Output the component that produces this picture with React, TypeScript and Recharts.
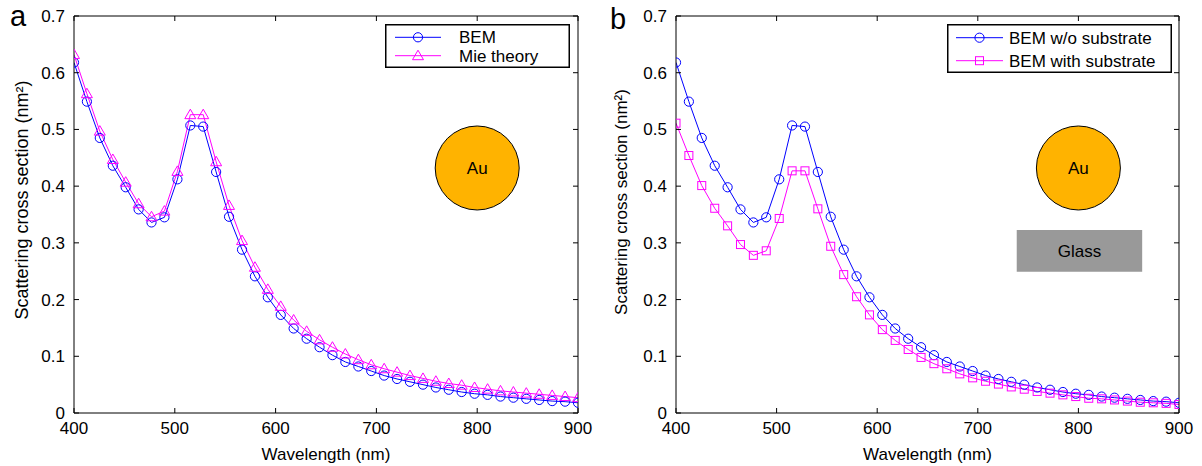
import React from 'react'
import {
  LineChart,
  Line,
  XAxis,
  YAxis,
  Legend,
  ReferenceDot,
  ReferenceArea
} from 'recharts'

// wavelength samples (nm)
const wavelengths = [
  400, 412.8, 425.6, 438.5, 451.3, 464.1, 476.9, 489.7, 502.6, 515.4,
  528.2, 541.0, 553.8, 566.7, 579.5, 592.3, 605.1, 617.9, 630.8, 643.6,
  656.4, 669.2, 682.1, 694.9, 707.7, 720.5, 733.3, 746.2, 759.0, 771.8,
  784.6, 797.4, 810.3, 823.1, 835.9, 848.7, 861.5, 874.4, 887.2, 900
]

// scattering cross section (nm^2)
const bemValues = [
  0.618, 0.549, 0.485, 0.436, 0.398, 0.359, 0.336, 0.345, 0.412, 0.507,
  0.505, 0.425, 0.346, 0.288, 0.241, 0.204, 0.173, 0.149, 0.131, 0.116,
  0.102, 0.090, 0.082, 0.074, 0.066, 0.060, 0.055, 0.050, 0.045, 0.041,
  0.037, 0.034, 0.032, 0.029, 0.027, 0.025, 0.023, 0.021, 0.020, 0.018
]

const mieValues = [
  0.632, 0.563, 0.497, 0.447, 0.407, 0.369, 0.346, 0.356, 0.426, 0.526,
  0.526, 0.443, 0.366, 0.304, 0.257, 0.218, 0.188, 0.164, 0.144, 0.129,
  0.116, 0.104, 0.094, 0.085, 0.078, 0.072, 0.066, 0.061, 0.056, 0.052,
  0.049, 0.045, 0.042, 0.039, 0.037, 0.035, 0.033, 0.031, 0.029, 0.027
]

const substrateValues = [
  0.511, 0.454, 0.401, 0.361, 0.330, 0.297, 0.278, 0.286, 0.343, 0.427,
  0.427, 0.360, 0.294, 0.244, 0.205, 0.173, 0.147, 0.128, 0.112, 0.098,
  0.087, 0.078, 0.069, 0.062, 0.056, 0.051, 0.046, 0.042, 0.038, 0.035,
  0.032, 0.029, 0.026, 0.025, 0.023, 0.021, 0.019, 0.018, 0.017, 0.015
]

const xTicks = [400, 500, 600, 700, 800, 900]
const yTicks = [0, 0.1, 0.2, 0.3, 0.4, 0.5, 0.6, 0.7]

// sketch annotations, in data units
const sphereCenter = { x: 800, y: 0.432 }
const glassBox = { x1: 738.7, x2: 863.4, y1: 0.249, y2: 0.3225 }

const BLUE = '#0000ff'
const MAGENTA = '#ff00ff'
const FONT = "'Liberation Sans', Arial, Helvetica, sans-serif"

const data = wavelengths.map((w, i) => ({
  w,
  bem: bemValues[i],
  mie: mieValues[i],
  sub: substrateValues[i]
}))

type MarkerKind = 'circle' | 'triangle' | 'square'

interface SeriesDef {
  key: string
  name: string
  color: string
  marker: MarkerKind
}

const drawMarker = (kind: MarkerKind, cx: number, cy: number, color: string, key?: string) => {
  if (kind === 'circle') {
    return <circle key={key} cx={cx} cy={cy} r={4.6} fill="none" stroke={color} strokeWidth={1} />
  }
  if (kind === 'triangle') {
    return (
      <path
        key={key}
        d={`M${cx},${cy - 5.5} L${cx + 5.5},${cy + 4} L${cx - 5.5},${cy + 4} Z`}
        fill="none"
        stroke={color}
        strokeWidth={1}
      />
    )
  }
  return <rect key={key} x={cx - 4} y={cy - 4} width={8} height={8} fill="none" stroke={color} strokeWidth={1} />
}

interface LegendLayout {
  left: number
  top: number
  width: number
  height: number
  rows: number[]
  lineX1: number
  lineX2: number
  textX: number
}

const LegendBox = ({ items, layout }: { items: SeriesDef[]; layout: LegendLayout }) => (
  <svg width={layout.width} height={layout.height} style={{ display: 'block', fontFamily: FONT }}>
    <rect x={0.75} y={0.75} width={layout.width - 1.5} height={layout.height - 1.5} fill="#fff" stroke="#000" strokeWidth={1.5} />
    {items.map((it, i) => {
      const y = layout.rows[i]
      return (
        <g key={it.key}>
          <line x1={layout.lineX1} x2={layout.lineX2} y1={y} y2={y} stroke={it.color} strokeWidth={1} />
          {drawMarker(it.marker, (layout.lineX1 + layout.lineX2) / 2, y, it.color)}
          <text x={layout.textX} y={y} dy="0.36em" fontSize={17} fill="#000">
            {it.name}
          </text>
        </g>
      )
    })}
  </svg>
)

interface PanelProps {
  letter: string
  letterTop: number
  left: number
  width: number
  marginLeft: number
  marginRight: number
  series: SeriesDef[]
  legend: LegendLayout
  showGlass?: boolean
  yLabelDx: number
  yLabelDy: number
  yLabelSize: number
}

const Panel: React.FC<PanelProps> = ({
  letter,
  letterTop,
  left,
  width,
  marginLeft,
  marginRight,
  series,
  legend,
  showGlass = false,
  yLabelDx,
  yLabelDy,
  yLabelSize
}) => {
  const yLabel = (props: any) => {
    const vb = props.viewBox
    const x = vb.x + yLabelDx
    const y = vb.y + vb.height / 2 + yLabelDy
    return (
      <text
        x={x}
        y={y}
        transform={`rotate(-90 ${x} ${y})`}
        textAnchor="middle"
        fontSize={yLabelSize}
        fill="#000"
      >
        Scattering cross section (nm²)
      </text>
    )
  }

  return (
    <div style={{ position: 'absolute', left, top: 0, width, height: 466 }}>
      <div
        style={{
          position: 'absolute',
          left: 10,
          top: letterTop,
          fontSize: 29,
          lineHeight: 1,
          color: '#000'
        }}
      >
        {letter}
      </div>
      <LineChart
        width={width}
        height={466}
        data={data}
        margin={{ top: 15, right: marginRight, bottom: 0, left: marginLeft }}
      >
        <XAxis
          dataKey="w"
          type="number"
          domain={[400, 900]}
          ticks={xTicks}
          allowDataOverflow
          height={53}
          stroke="#000"
          tickSize={-5}
          tickMargin={14}
          tick={{ fill: '#000', fontSize: 17 }}
          label={{ value: 'Wavelength (nm)', position: 'insideBottom', offset: 6, fill: '#000', fontSize: 17 }}
        />
        <XAxis
          xAxisId="top"
          orientation="top"
          dataKey="w"
          type="number"
          domain={[400, 900]}
          ticks={xTicks}
          allowDataOverflow
          height={1}
          stroke="#000"
          tickSize={-5}
          tickFormatter={() => ''}
        />
        <YAxis
          type="number"
          domain={[0, 0.7]}
          ticks={yTicks}
          allowDataOverflow
          width={46}
          stroke="#000"
          tickSize={-5}
          tickMargin={14}
          tick={{ fill: '#000', fontSize: 17 }}
          label={{ content: yLabel }}
        />
        <YAxis
          yAxisId="right"
          orientation="right"
          type="number"
          domain={[0, 0.7]}
          ticks={yTicks}
          allowDataOverflow
          width={1}
          stroke="#000"
          tickSize={-5}
          tickFormatter={() => ''}
        />
        {showGlass && (
          <ReferenceArea
            x1={glassBox.x1}
            x2={glassBox.x2}
            y1={glassBox.y1}
            y2={glassBox.y2}
            fill="#999999"
            fillOpacity={1}
            stroke="none"
            label={{ value: 'Glass', position: 'center', fill: '#000', fontSize: 17 }}
          />
        )}
        <ReferenceDot
          x={sphereCenter.x}
          y={sphereCenter.y}
          r={42}
          fill="#ffb300"
          fillOpacity={1}
          stroke="#000"
          strokeWidth={1}
          label={{ value: 'Au', position: 'center', fill: '#000', fontSize: 17 }}
        />
        {series.map((s) => (
          <Line
            key={s.key}
            type="linear"
            dataKey={s.key}
            name={s.name}
            stroke={s.color}
            strokeWidth={1}
            dot={(p: any) => drawMarker(s.marker, p.cx, p.cy, s.color, `${s.key}-${p.index}`)}
            activeDot={false}
            isAnimationActive={false}
          />
        ))}
        <Legend
          layout="vertical"
          align="center"
          verticalAlign="middle"
          wrapperStyle={{
            left: legend.left,
            top: legend.top,
            width: legend.width,
            height: legend.height
          }}
          content={() => <LegendBox items={series} layout={legend} />}
        />
      </LineChart>
    </div>
  )
}

const seriesA: SeriesDef[] = [
  { key: 'bem', name: 'BEM', color: BLUE, marker: 'circle' },
  { key: 'mie', name: 'Mie theory', color: MAGENTA, marker: 'triangle' }
]

const seriesB: SeriesDef[] = [
  { key: 'bem', name: 'BEM w/o substrate', color: BLUE, marker: 'circle' },
  { key: 'sub', name: 'BEM with substrate', color: MAGENTA, marker: 'square' }
]

export default function App() {
  return (
    <div
      style={{
        position: 'absolute',
        left: 0,
        top: 0,
        width: 1202,
        height: 466,
        background: '#fff',
        fontFamily: FONT
      }}
    >
      <Panel
        letter="a"
        letterTop={2}
        left={0}
        width={600}
        marginLeft={28}
        marginRight={21}
        series={seriesA}
        legend={{ left: 385, top: 24, width: 185, height: 44, rows: [13.3, 31.7], lineX1: 10, lineX2: 56, textX: 74 }}
        yLabelDx={0}
        yLabelDy={-14.5}
        yLabelSize={18}
      />
      <Panel
        letter="b"
        letterTop={5}
        left={600}
        width={602}
        marginLeft={30}
        marginRight={22}
        series={seriesB}
        legend={{ left: 347, top: 24, width: 225, height: 49, rows: [13.7, 36.7], lineX1: 9, lineX2: 56, textX: 62 }}
        showGlass
        yLabelDx={-3}
        yLabelDy={-12.5}
        yLabelSize={17}
      />
    </div>
  )
}
